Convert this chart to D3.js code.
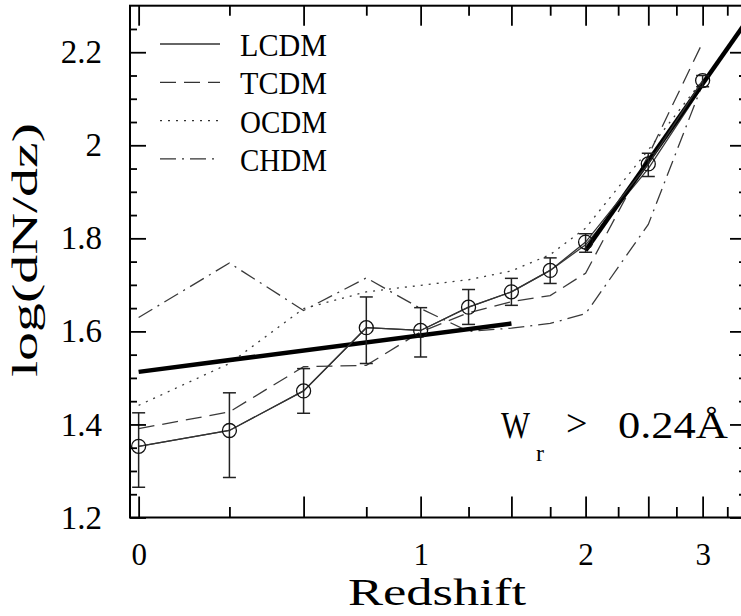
<!DOCTYPE html>
<html>
<head>
<meta charset="utf-8">
<script src="https://cdn.jsdelivr.net/npm/d3@7"></script>
<style>
  body { margin: 0; background: #fff; }
  svg text { font-family: "Liberation Serif", "Times New Roman", serif; fill: #000; }
</style>
</head>
<body>
<div id="chart"></div>
<script>
// redshift grid of the measurements and models
const zData = [0, 0.25, 0.5, 0.75, 1, 1.25, 1.5, 1.75, 2, 2.5, 3];
const logN = [1.353, 1.387, 1.472, 1.608, 1.602, 1.652, 1.685, 1.731, 1.792, 1.960, 2.139];
const errLo = [1.265, 1.286, 1.424, 1.531, 1.545, 1.615, 1.656, 1.703, 1.770, 1.933, 2.126];
const errHi = [1.425, 1.468, 1.520, 1.674, 1.651, 1.690, 1.714, 1.758, 1.810, 1.983, 2.150];

// model curves
const zModel = [0, 0.25, 0.5, 0.75, 1, 1.25, 1.5, 1.75, 2, 2.5, 3];
const lcdm = [1.353, 1.387, 1.472, 1.608, 1.602, 1.652, 1.685, 1.731, 1.786, 1.950, 2.127];
const tcdm = [1.391, 1.427, 1.524, 1.527, 1.599, 1.640, 1.664, 1.677, 1.725, 1.978, 2.221];
const ocdm = [1.441, 1.531, 1.649, 1.685, 1.699, 1.711, 1.730, 1.765, 1.822, 1.990, 2.140];
const chdm = [1.630, 1.747, 1.645, 1.715, 1.649, 1.600, 1.607, 1.617, 1.638, 1.830, 2.132];

// power-law fits (thick lines)
const fitLow = { z: [0, 1.5], v: [1.513, 1.617] };
const fitHigh = { z: [2, 3.5], v: [1.774, 2.279] };

// axis ticks
const xMajor = [0, 0.5, 1, 1.5, 2, 2.5, 3];
const xMinor = [0.25, 0.75, 1.25, 1.75, 2.25, 2.75, 3.25];
const xLabels = [0, 1, 2, 3];
const yMajor = [1.2, 1.4, 1.6, 1.8, 2.0, 2.2];
const yMinor = d3.range(1.25, 2.3, 0.05).map(d => +d.toFixed(2)).filter(d => !yMajor.includes(d));

const legendNames = ["LCDM", "TCDM", "OCDM", "CHDM"];

const W = 741, H = 616;
const pLeft = 130, pRight = 746, pTop = 5.7, pBottom = 517.5;

const svg = d3.select("#chart").append("svg")
  .attr("width", W).attr("height", H);

// x axis runs in log(1+z)
const xs = d3.scaleLog().domain([0.979, 4.45]).range([pLeft, pRight]);
const x = z => xs(1 + z);
const y = d3.scaleLinear().domain([1.2, 2.3]).range([pBottom, pTop]);

svg.append("clipPath").attr("id", "clip")
  .append("rect").attr("x", pLeft).attr("y", pTop)
  .attr("width", pRight - pLeft).attr("height", pBottom - pTop);

const plot = svg.append("g").attr("clip-path", "url(#clip)");

const line = d3.line().x(d => x(d[0])).y(d => y(d[1]));

const styles = [
  { vals: lcdm, dash: null },
  { vals: tcdm, dash: "16,8" },
  { vals: ocdm, dash: "2,6" },
  { vals: chdm, dash: "16,6,2,6" }
];

styles.forEach(s => {
  plot.append("path")
    .attr("d", line(zModel.map((z, i) => [z, s.vals[i]])))
    .attr("fill", "none")
    .attr("stroke", "#3a3a3a")
    .attr("stroke-width", 1.3)
    .attr("stroke-dasharray", s.dash);
});

// thick fit lines
[fitLow, fitHigh].forEach(f => {
  plot.append("path")
    .attr("d", line(f.z.map((z, i) => [z, f.v[i]])))
    .attr("fill", "none")
    .attr("stroke", "#000")
    .attr("stroke-width", 4.5);
});

// data: connecting line, error bars, circles
plot.append("path")
  .attr("d", line(zData.map((z, i) => [z, logN[i]])))
  .attr("fill", "none")
  .attr("stroke", "#333")
  .attr("stroke-width", 1.3);

const pts = plot.selectAll("g.pt").data(zData).enter().append("g").attr("class", "pt");
pts.append("line")
  .attr("x1", d => x(d)).attr("x2", d => x(d))
  .attr("y1", (d, i) => y(errLo[i])).attr("y2", (d, i) => y(errHi[i]))
  .attr("stroke", "#222").attr("stroke-width", 1.5);
pts.append("line")
  .attr("x1", d => x(d) - 6.5).attr("x2", d => x(d) + 6.5)
  .attr("y1", (d, i) => y(errLo[i])).attr("y2", (d, i) => y(errLo[i]))
  .attr("stroke", "#222").attr("stroke-width", 1.5);
pts.append("line")
  .attr("x1", d => x(d) - 6.5).attr("x2", d => x(d) + 6.5)
  .attr("y1", (d, i) => y(errHi[i])).attr("y2", (d, i) => y(errHi[i]))
  .attr("stroke", "#222").attr("stroke-width", 1.5);
pts.append("circle")
  .attr("cx", d => x(d)).attr("cy", (d, i) => y(logN[i]))
  .attr("r", 7)
  .attr("fill", "none").attr("stroke", "#111").attr("stroke-width", 1.3);

// axes with inward ticks on all four sides
function styleAxis(g) {
  g.select(".domain").remove();
  g.selectAll(".tick line").attr("stroke", "#000").attr("stroke-width", 1.8);
  g.attr("font-family", "Liberation Serif");
}

svg.append("g").attr("transform", `translate(0,${pBottom})`)
  .call(d3.axisBottom(xs).tickValues(xMajor.map(z => 1 + z)).tickSize(-21).tickPadding(25)
    .tickFormat(d => xLabels.includes(Math.round((d - 1) * 100) / 100) ? String(Math.round(d - 1)) : ""))
  .call(styleAxis)
  .selectAll("text").attr("font-size", 31);
svg.append("g").attr("transform", `translate(0,${pBottom})`)
  .call(d3.axisBottom(xs).tickValues(xMinor.map(z => 1 + z)).tickSize(-10.5).tickFormat(""))
  .call(styleAxis);
svg.append("g").attr("transform", `translate(0,${pTop})`)
  .call(d3.axisTop(xs).tickValues(xMajor.map(z => 1 + z)).tickSize(-20).tickFormat(""))
  .call(styleAxis);
svg.append("g").attr("transform", `translate(0,${pTop})`)
  .call(d3.axisTop(xs).tickValues(xMinor.map(z => 1 + z)).tickSize(-10).tickFormat(""))
  .call(styleAxis);

svg.append("g").attr("transform", `translate(${pLeft},0)`)
  .call(d3.axisLeft(y).tickValues(yMajor).tickSize(-16).tickPadding(28)
    .tickFormat(d => String(+d.toFixed(1))))
  .call(styleAxis)
  .selectAll("text").attr("font-size", 33);
svg.append("g").attr("transform", `translate(${pLeft},0)`)
  .call(d3.axisLeft(y).tickValues(yMinor).tickSize(-7).tickFormat(""))
  .call(styleAxis);
svg.append("g").attr("transform", `translate(${pRight},0)`)
  .call(d3.axisRight(y).tickValues(yMajor).tickSize(-16).tickFormat(""))
  .call(styleAxis);
svg.append("g").attr("transform", `translate(${pRight},0)`)
  .call(d3.axisRight(y).tickValues(yMinor).tickSize(-7).tickFormat(""))
  .call(styleAxis);

// frame
svg.append("rect")
  .attr("x", pLeft).attr("y", pTop)
  .attr("width", pRight - pLeft).attr("height", pBottom - pTop)
  .attr("fill", "none").attr("stroke", "#000").attr("stroke-width", 2);

// axis titles
svg.append("text")
  .attr("x", 437).attr("y", 605)
  .attr("text-anchor", "middle")
  .attr("font-size", 38)
  .attr("textLength", 178).attr("lengthAdjust", "spacingAndGlyphs")
  .text("Redshift");

svg.append("text")
  .attr("transform", "translate(37,250) rotate(-90)")
  .attr("text-anchor", "middle")
  .attr("font-size", 36)
  .attr("textLength", 254).attr("lengthAdjust", "spacingAndGlyphs")
  .text("log(dN/dz)");

// legend
const leg = svg.append("g");
legendNames.forEach((name, i) => {
  const ly = 44 + i * 38.3;
  leg.append("line")
    .attr("x1", 160).attr("x2", 220).attr("y1", ly).attr("y2", ly)
    .attr("stroke", "#333").attr("stroke-width", 1.3)
    .attr("stroke-dasharray", styles[i].dash);
  leg.append("text")
    .attr("x", 240).attr("y", ly + 12)
    .attr("font-size", 32)
    .attr("textLength", 87).attr("lengthAdjust", "spacingAndGlyphs")
    .text(name);
});

// equivalent width label
const ann = svg.append("g");
ann.append("text").attr("x", 501).attr("y", 438).attr("font-size", 38)
  .attr("textLength", 29).attr("lengthAdjust", "spacingAndGlyphs").text("W");
ann.append("text").attr("x", 536).attr("y", 461).attr("font-size", 24).text("r");
ann.append("text").attr("x", 566).attr("y", 436).attr("font-size", 38).text(">");
ann.append("text").attr("x", 618).attr("y", 438).attr("font-size", 38)
  .attr("textLength", 110).attr("lengthAdjust", "spacingAndGlyphs")
  .text("0.24Å");
</script>
</body>
</html>
